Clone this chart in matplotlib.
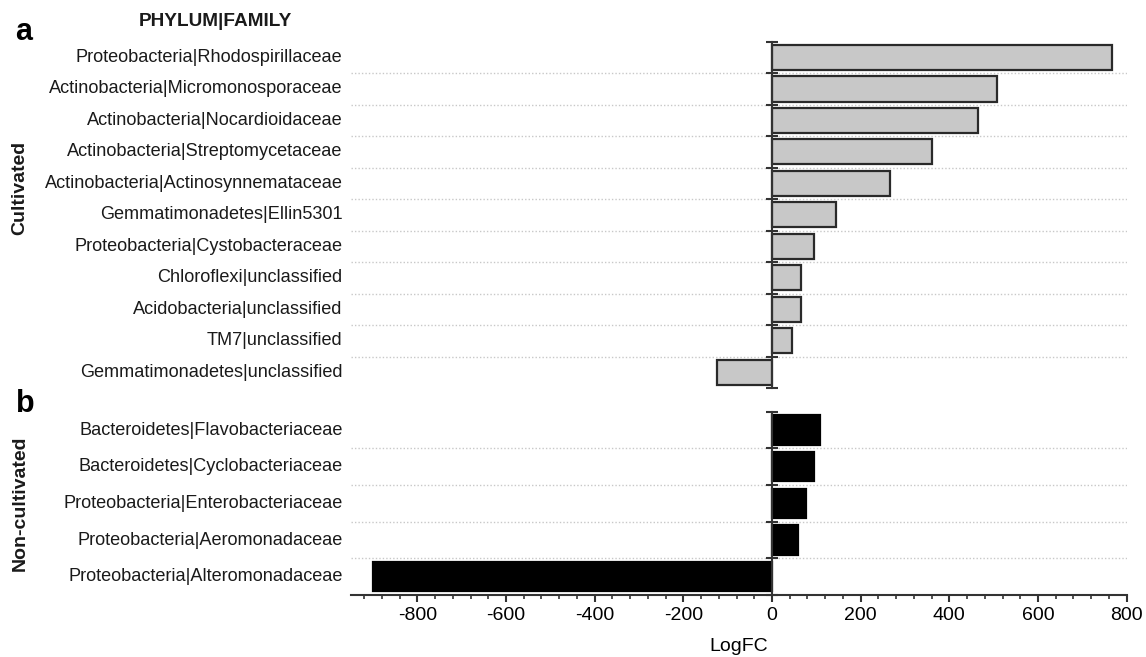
import matplotlib
matplotlib.use("Agg")
import matplotlib.pyplot as plt
from matplotlib.ticker import MultipleLocator, FixedLocator, NullFormatter

plt.rcParams["font.family"] = ["Liberation Sans", "DejaVu Sans"]
plt.rcParams["text.color"] = "#1a1a1a"

# Differentially abundant families, ordered top to bottom
cultivated_taxa = [
    "Proteobacteria|Rhodospirillaceae",
    "Actinobacteria|Micromonosporaceae",
    "Actinobacteria|Nocardioidaceae",
    "Actinobacteria|Streptomycetaceae",
    "Actinobacteria|Actinosynnemataceae",
    "Gemmatimonadetes|Ellin5301",
    "Proteobacteria|Cystobacteraceae",
    "Chloroflexi|unclassified",
    "Acidobacteria|unclassified",
    "TM7|unclassified",
    "Gemmatimonadetes|unclassified",
]
cultivated_logfc = [766, 508, 464, 360, 267, 144, 95, 66, 65, 44, -125]

noncultivated_taxa = [
    "Bacteroidetes|Flavobacteriaceae",
    "Bacteroidetes|Cyclobacteriaceae",
    "Proteobacteria|Enterobacteriaceae",
    "Proteobacteria|Aeromonadaceae",
    "Proteobacteria|Alteromonadaceae",
]
noncultivated_logfc = [108, 95, 76, 59, -901]

x_ticks = [-800, -600, -400, -200, 0, 200, 400, 600, 800]
x_min, x_max = -950, 800

W, H = 1146, 657
fig = plt.figure(figsize=(W / 100, H / 100), dpi=100)

LEFT = 350.8 / W
WIDTH = (1126.7 - 350.8) / W
ax_a = fig.add_axes([LEFT, 1 - 388 / H, WIDTH, (388 - 41.7) / H])
ax_b = fig.add_axes([LEFT, 1 - 595 / H, WIDTH, (595 - 411.7) / H])

AXIS_COLOR = "#333333"


def draw_panel(ax, taxa, values, face, edge, show_x):
    n = len(taxa)
    centers = [i + 0.5 for i in range(n)]
    # dotted separators between categories
    ax.hlines(range(1, n), x_min, x_max, colors="#c8c8c8",
              linestyles=(0, (1, 1.5)), linewidth=1.0, zorder=1)
    ax.barh(centers, values, height=0.8, color=face, edgecolor=edge,
            linewidth=1.6, zorder=3)
    ax.set_xlim(x_min, x_max)
    ax.set_ylim(n, 0)

    for s in ("top", "right"):
        ax.spines[s].set_visible(False)
    ax.spines["left"].set_position(("data", 0))
    ax.spines["left"].set_color(AXIS_COLOR)
    ax.spines["left"].set_linewidth(1.5)
    ax.spines["left"].set_zorder(4)

    ax.yaxis.set_major_locator(FixedLocator(range(0, n + 1)))
    ax.yaxis.set_major_formatter(NullFormatter())
    ax.tick_params(axis="y", direction="inout", length=9, width=1.5,
                   color=AXIS_COLOR)

    for y, name in zip(centers, taxa):
        ax.annotate(name, xy=(0, y), xycoords=("axes fraction", "data"),
                    xytext=(-6, 0), textcoords="offset points",
                    ha="right", va="center", fontsize=13.1)

    if show_x:
        ax.spines["bottom"].set_color(AXIS_COLOR)
        ax.spines["bottom"].set_linewidth(1.5)
        ax.set_xticks(x_ticks)
        ax.set_xticklabels([str(t) for t in x_ticks])
        ax.xaxis.set_minor_locator(MultipleLocator(40))
        ax.tick_params(axis="x", which="major", direction="out", length=5,
                       width=1.5, color=AXIS_COLOR, labelsize=14, pad=4)
        ax.tick_params(axis="x", which="minor", direction="out", length=3,
                       width=1.2, color=AXIS_COLOR)
        ax.set_xlabel("LogFC", fontsize=14, labelpad=10)
    else:
        ax.spines["bottom"].set_visible(False)
        ax.set_xticks([])


draw_panel(ax_a, cultivated_taxa, cultivated_logfc, "#c8c8c8", "#2a2a2a", False)
draw_panel(ax_b, noncultivated_taxa, noncultivated_logfc, "black", "black", True)

fig.text(215 / W, 1 - 22 / H, "PHYLUM|FAMILY", ha="center", va="center",
         fontsize=13.7, fontweight="bold")
fig.text(15 / W, 1 - 40 / H, "a", ha="left", va="baseline",
         fontsize=22, fontweight="bold", color="black")
fig.text(16 / W, 1 - 412 / H, "b", ha="left", va="baseline",
         fontsize=22, fontweight="bold", color="black")
fig.text(20 / W, 1 - 188 / H, "Cultivated", rotation=90, ha="center",
         va="center", fontsize=14, fontweight="bold")
fig.text(20 / W, 1 - 503 / H, "Non-cultivated", rotation=90, ha="center",
         va="center", fontsize=14, fontweight="bold")

fig.savefig("out.png", dpi=100)
